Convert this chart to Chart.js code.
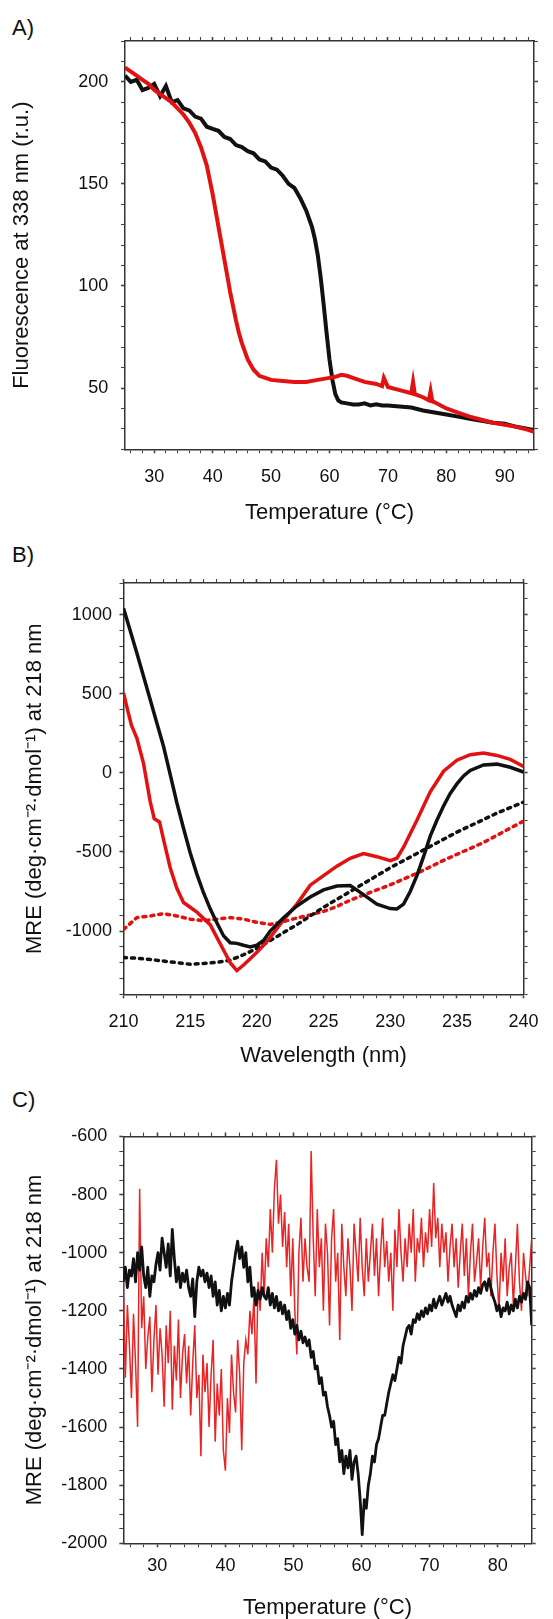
<!DOCTYPE html>
<html>
<head>
<meta charset="utf-8">
<script src="https://cdn.jsdelivr.net/npm/chart.js@4.4.1/dist/chart.umd.min.js"></script>
<style>
html, body { margin: 0; padding: 0; background: #fff; overflow: hidden; width: 553px; height: 1619px; }
canvas { position: absolute; left: 0; }
.lbl { position: absolute; left: 12px; font: 22px "Liberation Sans", Arial, sans-serif; line-height: 22px; color: #111; }
</style>
</head>
<body>
<div class="lbl" style="top:17px">A)</div>
<div class="lbl" style="top:544px">B)</div>
<div class="lbl" style="top:1089px">C)</div>
<canvas id="chartA" width="553" height="535" style="top:0"></canvas>
<canvas id="chartB" width="553" height="535" style="top:535px"></canvas>
<canvas id="chartC" width="553" height="570" style="top:1070px"></canvas>
<script>
// ---- panel A : fluorescence vs temperature ----
const tempBlackA = [25,26,27,28,29,30,31,32,33,34,35,36,37,38,39,40,41,42,43,44,45,46,47,48,49,50,51,52,53,54,55,56,57,57.5,58,58.5,59,59.5,60,60.5,61,61.5,62,63,64,65,66,67,68,69,70,72,74,76,78,80,82,84,86,88,90,92,94,95]
const fluorBlackA = [203,200,201,196,197,199,193,198,190,191,187,186,183,182,178,177,176,173,172,169,168,166,165,162,161,158,157,154,150,148,143,137,129,123,115,104,91,77,64,54,47,44,43,42.5,42,42,42.5,41.5,42,41.5,41.5,41,40.5,39,38,37,36,35,34,33,32.5,31,30,29.5]
const tempRedA = [25,26,27,28,29,30,31,32,33,34,35,36,37,38,39,39.5,40,40.5,41,41.5,42,42.5,43,43.5,44,44.5,45,46,47,48,49,50,52,54,56,58,60,61,62,63,64,65,66,68,69,69.3,70,72,74,74.3,74.6,76,77,77.3,77.6,78,80,82,84,86,88,90,92,94,95]
const fluorRedA = [207,205,203,201,199,196,194,192,190,187,184,180,175,168,159,152,145,137,129,121,113,105,97,90,83,77,72,64,59,56,55,54,53.5,53,53,54,55,55.5,56.5,56,55,54,53,52,51,55,50.5,49,47.5,53,47,45.5,44,48.5,43.5,43,40,38,36,34.5,33,32,31,29.5,28.5]
const xLabelsA = [30,40,50,60,70,80,90]
const yLabelsA = [50,100,150,200]

// ---- panel B : CD spectra ----
const waveBlackB = [210,210.5,211,211.5,212,212.5,213,213.5,214,214.5,215,215.5,216,216.5,217,217.5,218,218.5,219,219.5,220,220.5,221,222,223,224,225,226,227,228,229,230,230.5,231,231.5,232,232.5,233,233.5,234,234.5,235,235.5,236,237,238,239,240]
const mreBlackB = [1040,900,758,610,463,315,168,-10,-189,-350,-505,-640,-758,-860,-947,-1030,-1074,-1078,-1090,-1100,-1090,-1060,-1000,-916,-842,-785,-740,-716,-712,-770,-830,-858,-860,-830,-750,-650,-530,-400,-300,-210,-130,-70,-20,15,50,55,35,5]
const waveRedB = [210,210.3,210.6,211,211.5,212,212.3,212.7,213,213.5,214,214.5,215,215.5,216,216.5,217,217.5,218,218.5,219,219.5,220,220.5,221,222,223,224,225,226,227,228,229,230,230.5,231,232,233,234,235,236,237,238,239,240]
const mreRedB = [505,400,300,220,60,-180,-290,-310,-420,-600,-730,-820,-850,-880,-920,-960,-1040,-1120,-1200,-1250,-1215,-1175,-1135,-1090,-1040,-930,-830,-710,-650,-590,-540,-510,-530,-555,-540,-470,-300,-120,10,80,115,125,110,85,40]
const waveDotB = [210,211,212,213,214,215,216,217,218,219,220,221,222,223,224,225,226,227,228,229,230,231,232,233,234,235,236,237,238,239,240]
const mreBlackDotB = [-1168,-1172,-1180,-1190,-1200,-1210,-1205,-1198,-1185,-1150,-1110,-1060,-1010,-960,-905,-850,-800,-750,-700,-650,-600,-555,-510,-465,-420,-375,-335,-295,-255,-220,-185]
const mreRedDotB = [-990,-915,-905,-890,-905,-925,-935,-925,-915,-925,-945,-958,-940,-918,-898,-876,-845,-805,-772,-740,-708,-672,-635,-595,-553,-515,-478,-440,-395,-350,-305]
const xLabelsB = [210,215,220,225,230,235,240]
const yLabelsB = [-1000,-500,0,500,1000]

// ---- panel C : MRE at 218 nm vs temperature (sampled every 0.3 C from 25 C) ----
const startC = 25, stepC = 0.3
const mreRedC = [
  -1100,-1430,-1180,-1320,-1500,-1210,-1380,-1600,-780,-1260,
  -1150,-1400,-1290,-1220,-1480,-1300,-1180,-1420,-1260,-1350,
  -1530,-1250,-1380,-1200,-1540,-1320,-1440,-1230,-1500,-1350,
  -1280,-1450,-1320,-1560,-1380,-1250,-1500,-1420,-1700,-1350,
  -1480,-1380,-1600,-1420,-1300,-1650,-1450,-1560,-1400,-1680,
  -1750,-1500,-1620,-1350,-1480,-1550,-1300,-1420,-1680,-1380,
  -1300,-1350,-1200,-1280,-1150,-1450,-1100,-1200,-1000,-1150,
  -950,-1050,-850,-1000,-780,-680,-900,-800,-980,-860,
  -1050,-900,-1150,-950,-1200,-1350,-1000,-880,-1100,-950,
  -1050,-1100,-650,-950,-1150,-850,-1050,-950,-1200,-900,
  -1000,-1250,-950,-850,-1100,-1000,-1300,-900,-1050,-1150,
  -950,-1050,-1200,-900,-1000,-1100,-880,-1050,-1150,-950,
  -1100,-1000,-900,-1080,-950,-1150,-1000,-880,-1050,-960,
  -1100,-1000,-1200,-920,-1050,-850,-1000,-1100,-950,-1050,
  -900,-1000,-850,-1100,-950,-1000,-880,-1050,-930,-1000,
  -850,-980,-760,-950,-880,-1050,-900,-1000,-930,-1100,
  -980,-900,-1050,-950,-1120,-1000,-900,-1080,-950,-1150,
  -1000,-900,-1100,-1030,-950,-1120,-980,-880,-1050,-1000,
  -1150,-1000,-900,-1080,-1200,-1000,-1100,-950,-1150,-1050,
  -1000,-1180,-1050,-900,-1100,-1200,-1000,-1080,-1150,-1050,-950
]
const mreBlackC = [
  -1100,-1050,-1120,-1060,-1080,-1020,-1100,-1000,-1060,-980,
  -1080,-1120,-1050,-1150,-1080,-1100,-1040,-1000,-1060,-950,
  -1000,-1050,-970,-1080,-920,-1020,-1100,-1050,-1120,-1070,
  -1100,-1060,-1120,-1150,-1090,-1220,-1100,-1050,-1080,-1060,
  -1100,-1070,-1120,-1080,-1150,-1100,-1180,-1130,-1200,-1150,
  -1190,-1140,-1180,-1100,-1050,-1000,-960,-1020,-980,-1050,
  -1000,-1100,-1050,-1150,-1120,-1180,-1130,-1160,-1120,-1150,
  -1160,-1120,-1180,-1140,-1190,-1150,-1200,-1170,-1210,-1180,
  -1230,-1200,-1260,-1230,-1280,-1250,-1300,-1270,-1310,-1290,
  -1320,-1300,-1360,-1340,-1400,-1390,-1450,-1430,-1490,-1480,
  -1530,-1560,-1600,-1580,-1660,-1640,-1720,-1680,-1760,-1700,
  -1740,-1680,-1780,-1720,-1700,-1760,-1850,-1970,-1850,-1880,
  -1800,-1760,-1700,-1720,-1660,-1640,-1600,-1560,-1560,-1520,
  -1480,-1450,-1420,-1440,-1400,-1360,-1380,-1320,-1290,-1260,
  -1250,-1280,-1230,-1240,-1210,-1230,-1200,-1220,-1190,-1210,
  -1180,-1200,-1160,-1190,-1170,-1150,-1180,-1160,-1140,-1170,
  -1150,-1180,-1200,-1220,-1180,-1200,-1170,-1190,-1150,-1170,
  -1140,-1160,-1130,-1150,-1120,-1140,-1110,-1100,-1130,-1090,
  -1120,-1150,-1170,-1200,-1180,-1220,-1190,-1200,-1170,-1210,
  -1180,-1200,-1160,-1190,-1150,-1170,-1140,-1160,-1100,-1120,-1250
]
const xLabelsC = [30,40,50,60,70,80]
const yLabelsC = [-2000,-1800,-1600,-1400,-1200,-1000,-800,-600]

const RED = 'rgb(226,18,18)'
const BLACK = '#111'
Chart.defaults.font.family = '"Liberation Sans", Arial, sans-serif'
Chart.defaults.color = '#111'

function range(a, b, step) {
    let out = []
    for (let v = a; v <= b + 1e-9; v += step) out.push(Math.round(v * 1000) / 1000)
    return out
}

function pts(xs, ys) {
    return ys.map((y, i) => ({x: xs[i], y: y}))
}

// one side of the box: ticks at every minor step, labels only on the majors
function axis(o) {
    const horiz = o.pos === 'top' || o.pos === 'bottom'
    const main = o.pos === 'bottom' || o.pos === 'left'
    return {
        type: 'linear', position: o.pos, min: o.min, max: o.max,
        afterBuildTicks: s => { s.ticks = o.ticks.map(v => ({value: v})) },
        afterFit: s => { if (horiz) s.height = o.size; else s.width = o.size },
        grid: {
            drawOnChartArea: false, drawTicks: true, tickLength: 4,
            tickColor: '#444',
            tickWidth: c => o.labels.includes(c.tick.value) ? 1.6 : 1.1
        },
        border: {display: true, color: '#333', width: 1.5},
        ticks: {
            display: main, autoSkip: false, maxRotation: 0, minRotation: 0,
            padding: o.pad || 0, color: '#111', font: {size: 18, lineHeight: 1},
            callback: v => o.labels.includes(v) ? String(v) : ''
        },
        title: o.title ? {display: true, text: o.title, color: '#111', font: {size: 22, lineHeight: 1}, padding: o.titlePad} : {display: false}
    }
}

function makeChart(id, datasets, sc) {
    return new Chart(document.getElementById(id), {
        type: 'line',
        data: {datasets: datasets},
        options: {
            responsive: false, animation: false, events: [],
            layout: {padding: 0},
            plugins: {legend: {display: false}, tooltip: {enabled: false}},
            elements: {point: {radius: 0}, line: {tension: 0}},
            scales: sc
        }
    })
}

makeChart('chartA', [
    {data: pts(tempRedA, fluorRedA), borderColor: RED, borderWidth: 4, order: 0},
    {data: pts(tempBlackA, fluorBlackA), borderColor: BLACK, borderWidth: 4, order: 1}
], {
    x: axis({pos: 'bottom', min: 25, max: 95, ticks: range(26, 94, 2), labels: xLabelsA, size: 85.7, pad: 14.4,
             title: 'Temperature (\u00B0C)', titlePad: {bottom: 11}}),
    x2: axis({pos: 'top', min: 25, max: 95, ticks: range(26, 94, 2), labels: xLabelsA, size: 41}),
    y: axis({pos: 'left', min: 20, max: 220, ticks: range(20, 220, 10), labels: yLabelsA, size: 125, pad: 12.7,
             title: 'Fluorescence at 338 nm (r.u.)', titlePad: {top: 11}}),
    y2: axis({pos: 'right', min: 20, max: 220, ticks: range(20, 220, 10), labels: yLabelsA, size: 19})
})

makeChart('chartB', [
    {data: pts(waveRedB, mreRedB), borderColor: RED, borderWidth: 3.5, order: 1},
    {data: pts(waveBlackB, mreBlackB), borderColor: BLACK, borderWidth: 3.5, order: 0},
    {data: pts(waveDotB, mreBlackDotB), borderColor: BLACK, borderWidth: 3.5, borderDash: [3, 5], borderCapStyle: 'round', order: 2},
    {data: pts(waveDotB, mreRedDotB), borderColor: RED, borderWidth: 3.5, borderDash: [3, 5], borderCapStyle: 'round', order: 3}
], {
    x: axis({pos: 'bottom', min: 210, max: 240, ticks: range(210, 240, 1), labels: xLabelsB, size: 75.7, pad: 14.4,
             title: 'Wavelength (nm)', titlePad: {bottom: 3}}),
    x2: axis({pos: 'top', min: 210, max: 240, ticks: range(210, 240, 1), labels: xLabelsB, size: 48}),
    y: axis({pos: 'left', min: -1400, max: 1200, ticks: range(-1400, 1200, 100), labels: yLabelsB, size: 123.5, pad: 7.6,
             title: 'MRE (deg\u00B7cm\u207B\u00B2\u00B7dmol\u207B\u00B9) at 218 nm', titlePad: {top: 23.5}}),
    y2: axis({pos: 'right', min: -1400, max: 1200, ticks: range(-1400, 1200, 100), labels: yLabelsB, size: 19.7})
})

const tempC = mreRedC.map((_, i) => Math.round((startC + stepC * i) * 10) / 10)
makeChart('chartC', [
    {data: pts(tempC, mreBlackC), borderColor: BLACK, borderWidth: 2.8, borderJoinStyle: 'round', order: 0},
    {data: pts(tempC, mreRedC), borderColor: 'rgb(232,36,36)', borderWidth: 1.5, order: 1}
], {
    x: axis({pos: 'bottom', min: 25, max: 85, ticks: range(26, 84, 2), labels: xLabelsC, size: 96.7, pad: 10,
             title: 'Temperature (\u00B0C)', titlePad: {bottom: 21}}),
    x2: axis({pos: 'top', min: 25, max: 85, ticks: range(26, 84, 2), labels: xLabelsC, size: 66.5}),
    y: axis({pos: 'left', min: -2000, max: -600, ticks: range(-2000, -600, 50), labels: yLabelsC, size: 123.3, pad: 12,
             title: 'MRE (deg\u00B7cm\u207B\u00B2\u00B7dmol\u207B\u00B9) at 218 nm', titlePad: {top: 24}}),
    y2: axis({pos: 'right', min: -2000, max: -600, ticks: range(-2000, -600, 50), labels: yLabelsC, size: 21.3})
})
</script>
</body>
</html>
